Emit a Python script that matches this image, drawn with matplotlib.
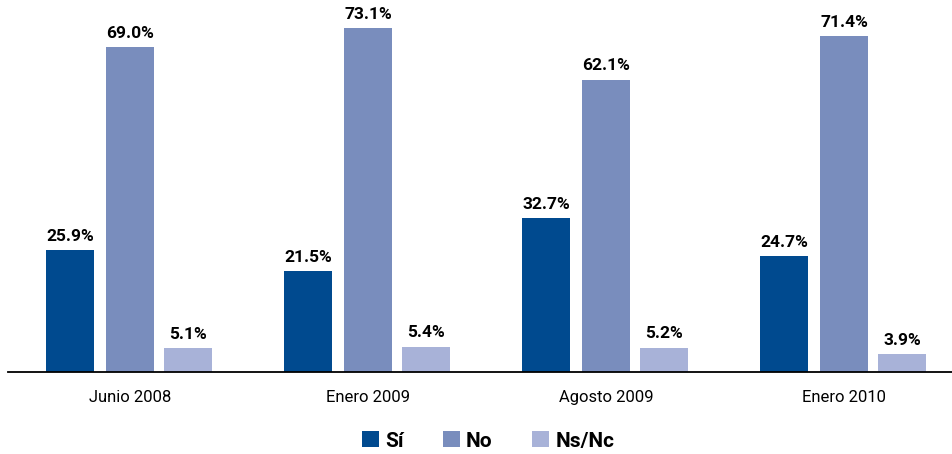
import matplotlib.pyplot as plt
import numpy as np

periodos = ['Junio 2008', 'Enero 2009', 'Agosto 2009', 'Enero 2010']
si = [25.9, 21.5, 32.7, 24.7]
no = [69.0, 73.1, 62.1, 71.4]
nsnc = [5.1, 5.4, 5.2, 3.9]
series = ['Sí', 'No', 'Ns/Nc']
colores = ['#004a8f', '#798dbd', '#a8b2d8']

plt.rcParams['font.family'] = ['Roboto', 'DejaVu Sans']

fig = plt.figure(figsize=(9.53, 4.54), dpi=100)
ax = fig.add_axes([8/953, 1-372/454, 945/953, 372/454])

x = np.arange(len(periodos))
offs = [-0.252, 0, 0.244]
for vals, off, col, nom in zip([si, no, nsnc], offs, colores, series):
    bars = ax.bar(x + off, vals, width=0.2, color=col, label=nom)
    for b, v in zip(bars, vals):
        ax.text(b.get_x() + b.get_width()/2, v + 1.3, f'{v:.1f}%',
                ha='center', va='bottom', fontsize=12.5, fontweight='bold')

ax.set_xlim(-0.513, 3.458)
ax.set_ylim(0, 79)
ax.set_xticks(x)
ax.set_xticklabels(periodos, fontsize=12)
ax.tick_params(axis='x', length=0, pad=13)
ax.set_yticks([])
for s in ['top', 'right', 'left']:
    ax.spines[s].set_visible(False)
ax.spines['bottom'].set_linewidth(1.3)

leg = fig.legend(loc='center', bbox_to_anchor=(488/953, 1-441/454), ncol=3,
                 frameon=False, handlelength=0.8, handleheight=0.8,
                 columnspacing=1.9, handletextpad=0.3,
                 prop={'weight': 'bold', 'size': 15})

fig.savefig('out.png', dpi=100)
